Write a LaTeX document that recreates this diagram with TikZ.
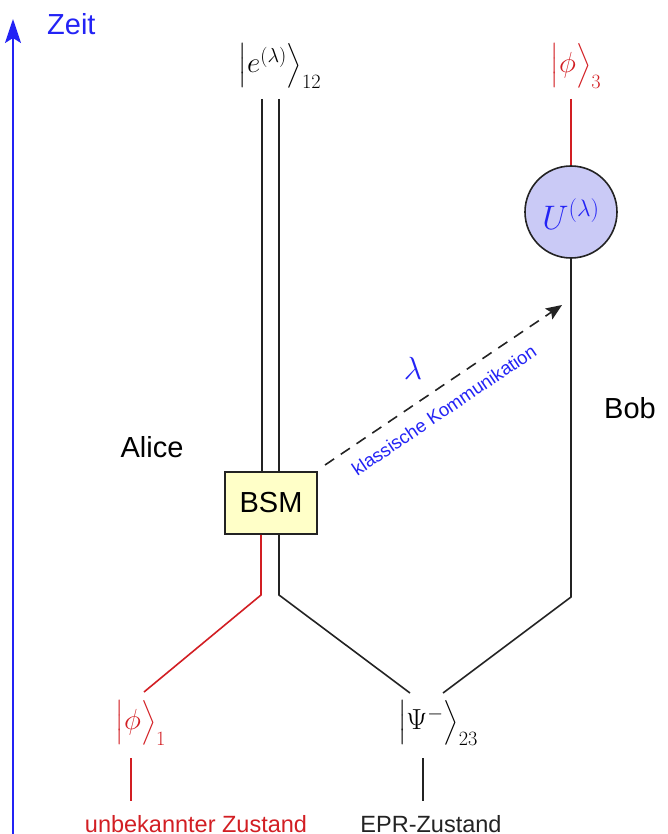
\RequirePackage{fix-cm}
\documentclass[tikz,border=0pt]{standalone}
\usepackage{amsmath}
\usepackage{fontspec}
\setmainfont{Liberation Sans}
\usetikzlibrary{arrows.meta}
\definecolor{myred}{RGB}{210,30,35}
\definecolor{myblue}{RGB}{35,35,245}
\definecolor{circfill}{RGB}{202,202,246}
\definecolor{boxfill}{RGB}{255,255,200}
\definecolor{dark}{RGB}{35,35,35}
\tikzset{
  wire/.style={line width=1.6pt, draw=dark},
  redwire/.style={line width=1.6pt, draw=myred},
  mlabel/.style={inner sep=0pt, font=\fontsize{29}{34}\selectfont},
  sanslabel/.style={inner sep=0pt, font=\fontsize{29}{34}\selectfont},
  smalllabel/.style={inner sep=0pt, font=\fontsize{23.5}{28}\selectfont, anchor=base},
}
\begin{document}
\begin{tikzpicture}[x=1pt,y=-1pt]
\useasboundingbox (0,0) rectangle (667,834);
% time axis
\coordinate (t0) at (13,834);
\coordinate (t1) at (13,19);
\draw[myblue, line width=2pt, -{Stealth[length=24pt,width=16pt,inset=5pt]}] (t0) -- (t1);
\node[sanslabel, myblue, anchor=west] (zeit) at (47,24) {Zeit};

% nodes
\node[mlabel] (e12) at (280,66) {$\bigl|e^{(\lambda)}\bigr\rangle_{12}$};
\node[mlabel, myred] (phi3) at (576,66) {$\bigl|\phi\bigr\rangle_3$};
\node[circle, draw=dark, line width=1.6pt, fill=circfill, minimum size=92pt, inner sep=0pt] (U) at (571,212) {};
\node[myblue, inner sep=0pt, font=\fontsize{34}{40}\selectfont] (Ulab) at (571,214) {$U^{(\lambda)}$};
\node[draw=dark, line width=1.6pt, fill=boxfill, minimum width=92pt, minimum height=62pt, inner sep=0pt, font=\fontsize{29}{34}\selectfont] (bsm) at (271,503) {BSM};
\node[mlabel, myred] (phi1) at (141,723) {$\bigl|\phi\bigr\rangle_1$};
\node[mlabel] (psi) at (438,723) {$\bigl|\Psi^-\bigr\rangle_{23}$};

\node[sanslabel, anchor=base] (alice) at (152,457) {Alice};
\node[sanslabel, anchor=base] (bob) at (630,418) {Bob};
\node[smalllabel, myred] (unb) at (196,832) {unbekannter Zustand};
\node[smalllabel, dark] (epr) at (431,832) {EPR-Zustand};
\node[myblue, inner sep=0pt, font=\fontsize{32}{38}\selectfont] (lam) at (413,368) {$\lambda$};
\node[myblue, inner sep=0pt, font=\fontsize{18.5}{22}\selectfont, rotate=34] (komm) at (444,410) {klassische Kommunikation};

% coordinates
\coordinate (dl) at (262,99);
\coordinate (dr) at (279,99);
\coordinate (bendR) at (261,595);
\coordinate (bendB) at (279,595);
\coordinate (a1) at (144,692);
\coordinate (a2) at (410,693);
\coordinate (a3) at (443,693);
\coordinate (bendBob) at (571,597);
\coordinate (p3b) at (571,99);
\coordinate (s1t) at (131,758);
\coordinate (s1b) at (131,801);
\coordinate (s2t) at (423,758);
\coordinate (s2b) at (423,801);
\coordinate (dstart) at (325,465);
\coordinate (dend) at (562,305);

% wires
\draw[wire] (dl) -- (dl |- bsm.north);
\draw[wire] (dr) -- (dr |- bsm.north);
\draw[redwire] (a1) -- (bendR) -- (bendR |- bsm.south);
\draw[wire] (a2) -- (bendB) -- (bendB |- bsm.south);
\draw[wire] (a3) -- (bendBob) -- (U.south);
\draw[redwire] (p3b) -- (U.north);
\draw[redwire] (s1t) -- (s1b);
\draw[wire] (s2t) -- (s2b);
\draw[wire, dash pattern=on 11pt off 8pt, -{Stealth[length=16pt,width=13pt,inset=3pt]}] (dstart) -- (dend);
\end{tikzpicture}
\end{document}
